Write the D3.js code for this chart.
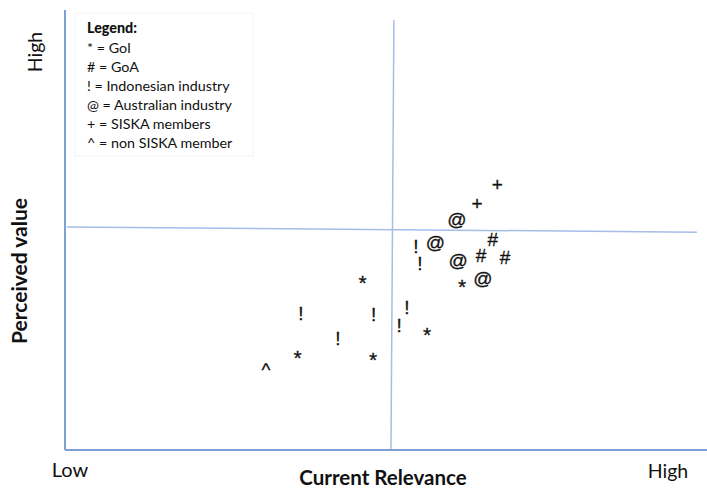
<!DOCTYPE html>
<html>
<head>
<meta charset="utf-8">
<script src="https://cdn.jsdelivr.net/npm/d3@7"></script>
<style>
  html, body { margin: 0; padding: 0; background: #fff; }
  svg { display: block; font-family: Lato, "Open Sans", sans-serif; }
</style>
</head>
<body>
<svg id="chart" width="707" height="490"></svg>
<script>
// ---- Data (0 = Low, 10 = High on both dimensions) ----
const groups  = ["GoI", "GoA", "Indonesian industry", "Australian industry", "SISKA members", "non SISKA member"];
const symbols = ["*", "#", "!", "@", "+", "^"];

const goiX = [6.11, 4.58, 5.57, 3.58, 4.74];
const goiY = [3.86, 3.95, 2.77, 2.25, 2.20];

const goaX = [6.58, 6.40, 6.77];
const goaY = [4.79, 4.41, 4.38];

const indoX = [5.40, 5.46, 3.63, 4.75, 5.26, 5.14, 4.20];
const indoY = [4.63, 4.25, 3.11, 3.07, 3.25, 2.84, 2.54];

const ausX = [6.03, 5.70, 6.05, 6.43];
const ausY = [5.27, 4.75, 4.32, 3.91];

const siskaX = [6.65, 6.34];
const siskaY = [6.04, 5.61];

const nonSiskaX = [3.09];
const nonSiskaY = [1.95];

const xLabels = ["Low", "High"];
const yLabels = ["High"];
const xTitle = "Current Relevance";
const yTitle = "Perceived value";
const legendTitle = "Legend:";

const seriesX = [goiX, goaX, indoX, ausX, siskaX, nonSiskaX];
const seriesY = [goiY, goaY, indoY, ausY, siskaY, nonSiskaY];

const points = [];
groups.forEach((g, i) => {
  seriesX[i].forEach((xv, j) => points.push({ group: g, sym: symbols[i], x: xv, y: seriesY[i][j] }));
});

// ---- Scales ----
const x = d3.scaleLinear().domain([0, 10]).range([65, 715]);
const y = d3.scaleLinear().domain([0, 10]).range([450, 10]);

const svg = d3.select("#chart");

const axisColor = "#7f9fd8";
const quadColor = "#a6bde8";

// Quadrant lines
svg.append("line")
  .attr("x1", x(5.015)).attr("y1", y(0))
  .attr("x2", x(5.06)).attr("y2", y(9.77))
  .attr("stroke", quadColor).attr("stroke-width", 1.5);
svg.append("line")
  .attr("x1", x(0.03)).attr("y1", y(5.07))
  .attr("x2", x(9.72)).attr("y2", y(4.95))
  .attr("stroke", quadColor).attr("stroke-width", 1.5);

// Axes lines
svg.append("line")
  .attr("x1", x(0)).attr("y1", y(0))
  .attr("x2", x(0)).attr("y2", y(10))
  .attr("stroke", axisColor).attr("stroke-width", 2);
svg.append("line")
  .attr("x1", x(0)).attr("y1", y(0))
  .attr("x2", 707).attr("y2", y(0))
  .attr("stroke", axisColor).attr("stroke-width", 2);

// Legend
const legend = svg.append("g").attr("transform", "translate(87,0)");
legend.append("rect")
  .attr("x", -12).attr("y", 13).attr("width", 178).attr("height", 143)
  .attr("fill", "none").attr("stroke", "#f3f3f3").attr("stroke-width", 1);
legend.append("text")
  .attr("x", 0).attr("y", 33)
  .attr("font-size", 14.3).attr("font-weight", "900").attr("fill", "#111")
  .text(legendTitle);
groups.forEach((g, i) => {
  legend.append("text")
    .attr("x", 0).attr("y", 53 + i * 19)
    .attr("font-size", 14.3).attr("fill", "#111")
    .text(symbols[i] + " = " + g);
});

// Symbol marks
const dyBySym = { "*": 6, "^": 5, "!": 0, "#": 0, "@": 1, "+": 0 };
const sizeBySym = { "*": 21, "^": 19, "!": 19, "#": 19, "@": 19, "+": 19 };
svg.append("g").selectAll("text")
  .data(points)
  .join("text")
  .attr("x", d => x(d.x))
  .attr("y", d => y(d.y))
  .attr("dy", d => dyBySym[d.sym])
  .attr("text-anchor", "middle")
  .attr("dominant-baseline", "central")
  .attr("font-family", "'Liberation Sans', Arial, sans-serif")
  .attr("font-size", d => sizeBySym[d.sym])
  .attr("fill", "#111")
  .attr("stroke", "#111").attr("stroke-width", 0.3)
  .text(d => d.sym);

// Axis labels
svg.append("text")
  .attr("x", 70).attr("y", 477)
  .attr("text-anchor", "middle").attr("font-size", 20).attr("fill", "#111")
  .text(xLabels[0]);
svg.append("text")
  .attr("x", 668).attr("y", 478)
  .attr("text-anchor", "middle").attr("font-size", 19.5).attr("fill", "#111")
  .text(xLabels[1]);
svg.append("text")
  .attr("x", 383).attr("y", 485)
  .attr("text-anchor", "middle").attr("font-size", 20.5).attr("font-weight", "bold").attr("fill", "#111")
  .text(xTitle);
svg.append("text")
  .attr("transform", "translate(42,52) rotate(-90)")
  .attr("text-anchor", "middle").attr("font-size", 19.5).attr("fill", "#111")
  .text(yLabels[0]);
svg.append("text")
  .attr("transform", "translate(27,271) rotate(-90)")
  .attr("text-anchor", "middle").attr("font-size", 21).attr("font-weight", "bold").attr("fill", "#111")
  .text(yTitle);
</script>
</body>
</html>
